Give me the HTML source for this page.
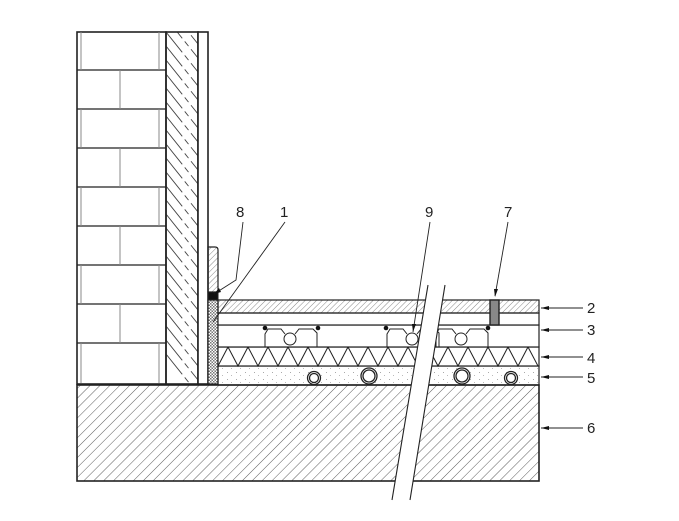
<!DOCTYPE html>
<html><head><meta charset="utf-8"><style>
html,body{margin:0;padding:0;background:#fff;width:679px;height:521px;overflow:hidden}
text{font-family:"Liberation Sans",sans-serif;font-size:15px;fill:#222}
</style></head><body>
<svg width="679" height="521" viewBox="0 0 679 521" xmlns="http://www.w3.org/2000/svg">
<defs>
<pattern id="h" patternUnits="userSpaceOnUse" width="7" height="7" patternTransform="rotate(45)">
<line x1="0" y1="0" x2="0" y2="7" stroke="#333" stroke-width="0.8"/></pattern>
<pattern id="hs" patternUnits="userSpaceOnUse" width="4" height="4" patternTransform="rotate(45)">
<line x1="0" y1="0" x2="0" y2="4" stroke="#555" stroke-width="0.7"/></pattern>
<pattern id="cx" patternUnits="userSpaceOnUse" width="3" height="3">
<rect width="3" height="3" fill="#fff"/><rect width="1.5" height="1.5" fill="#777"/><rect x="1.5" y="1.5" width="1.5" height="1.5" fill="#777"/></pattern>
<pattern id="dots" patternUnits="userSpaceOnUse" width="9" height="7">
<rect width="1" height="1" x="2" y="1" fill="#aaa"/><rect width="1" height="1" x="6" y="4" fill="#bbb"/></pattern>
<clipPath id="pc"><rect x="166" y="32" width="32" height="352"/></clipPath>
</defs>
<g stroke="#222" fill="none">
<rect x="77" y="385" width="462" height="96" fill="url(#h)" stroke-width="1.6"/>
<rect x="77" y="32" width="89" height="352" fill="#fff" stroke-width="1.6"/>
<g stroke-width="1.2">
<line x1="77" y1="70" x2="166" y2="70"/><line x1="77" y1="109" x2="166" y2="109"/>
<line x1="77" y1="148" x2="166" y2="148"/><line x1="77" y1="187" x2="166" y2="187"/>
<line x1="77" y1="226" x2="166" y2="226"/><line x1="77" y1="265" x2="166" y2="265"/>
<line x1="77" y1="304" x2="166" y2="304"/><line x1="77" y1="343" x2="166" y2="343"/>
</g>
<g stroke="#888" stroke-width="1">
<line x1="120" y1="70" x2="120" y2="109"/><line x1="120" y1="148" x2="120" y2="187"/>
<line x1="120" y1="226" x2="120" y2="265"/><line x1="120" y1="304" x2="120" y2="343"/>
<line x1="81" y1="32" x2="81" y2="70"/><line x1="159" y1="32" x2="159" y2="70"/>
<line x1="81" y1="109" x2="81" y2="148"/><line x1="159" y1="109" x2="159" y2="148"/>
<line x1="81" y1="187" x2="81" y2="226"/><line x1="159" y1="187" x2="159" y2="226"/>
<line x1="81" y1="265" x2="81" y2="304"/><line x1="159" y1="265" x2="159" y2="304"/>
<line x1="81" y1="343" x2="81" y2="383"/><line x1="159" y1="343" x2="159" y2="383"/>
</g>
<g clip-path="url(#pc)" stroke="#444" stroke-width="0.9">
<path id="pp" stroke-dasharray="26 4 6 4" d="M166 -10 l32 40 M166 4 l32 40 M166 18 l32 40 M166 32 l32 40 M166 46 l32 40 M166 60 l32 40 M166 74 l32 40 M166 88 l32 40 M166 102 l32 40 M166 116 l32 40 M166 130 l32 40 M166 144 l32 40 M166 158 l32 40 M166 172 l32 40 M166 186 l32 40 M166 200 l32 40 M166 214 l32 40 M166 228 l32 40 M166 242 l32 40 M166 256 l32 40 M166 270 l32 40 M166 284 l32 40 M166 298 l32 40 M166 312 l32 40 M166 326 l32 40 M166 340 l32 40 M166 354 l32 40"/>
</g>
<rect x="166" y="32" width="32" height="352" stroke-width="1.6"/>
<rect x="198" y="32" width="10" height="352" fill="#fff" stroke-width="1.6"/>
<path d="M208 247 H215 Q218 247 218 250 V292 H208 Z" fill="url(#hs)" stroke-width="1.2"/>
<rect x="208" y="292" width="10" height="8" fill="#111" stroke-width="1"/>
<rect x="208" y="300" width="10" height="84" fill="url(#cx)" stroke-width="1.2"/>
<rect x="218" y="366" width="321" height="19" fill="url(#dots)" stroke-width="1.2"/>
<rect x="218" y="347" width="321" height="19" fill="#fff" stroke-width="1.2"/>
<polyline stroke-width="1" points="218,366 228,347 238,366 248,347 258,366 268,347 278,366 288,347 298,366 308,347 318,366 328,347 338,366 348,347 358,366 368,347 378,366 388,347 398,366 408,347 418,366 428,347 438,366 448,347 458,366 468,347 478,366 488,347 498,366 508,347 518,366 528,347 538,366"/>
<rect x="218" y="325" width="321" height="22" fill="#fff" stroke-width="1.2"/>
<rect x="218" y="313" width="321" height="12" fill="#fff" stroke-width="1.2"/>
<rect x="218" y="300" width="321" height="13" fill="url(#hs)" stroke-width="1.2"/>
<g stroke-width="1">
<path d="M265 347 V334 L268 329 H281 L285 334 M295 334 L299 329 H313 L317 333 V347"/>
<path d="M387 347 V334 L390 329 H403 L407 334 M417 334 L421 329 H435 L439 333 V347"/>
<path d="M436 347 V334 L439 329 H452 L456 334 M466 334 L470 329 H484 L488 333 V347"/>
<circle cx="290" cy="339" r="6" fill="#fff"/><circle cx="412" cy="339" r="6" fill="#fff"/><circle cx="461" cy="339" r="6" fill="#fff"/>
</g>
<g fill="#111" stroke="none">
<circle cx="265" cy="328" r="2.3"/><circle cx="318" cy="328" r="2.3"/><circle cx="386" cy="328" r="2.3"/><circle cx="488" cy="328" r="2.3"/>
</g>
<g stroke-width="1.3" fill="#fff">
<circle cx="314" cy="378" r="6.5"/><circle cx="314" cy="378" r="4.5"/>
<circle cx="369" cy="376" r="8"/><circle cx="369" cy="376" r="6"/>
<circle cx="462" cy="376" r="8"/><circle cx="462" cy="376" r="6"/>
<circle cx="511" cy="378" r="6.5"/><circle cx="511" cy="378" r="4.5"/>
</g>
<rect x="490" y="300" width="9" height="25" fill="#888" stroke-width="1.4"/>
<polygon points="428,285 445,285 410,500 392,500" fill="#fff" stroke="none"/>
<line x1="428" y1="285" x2="392" y2="500" stroke-width="1.1"/>
<line x1="445" y1="285" x2="410" y2="500" stroke-width="1.1"/>
<g stroke-width="0.9">
<polyline points="243,222 236,280 214,294"/>
<line x1="285" y1="222" x2="213" y2="322"/>
<line x1="430" y1="222" x2="413" y2="332"/>
<line x1="508" y1="222" x2="495" y2="296"/>
<line x1="541" y1="308" x2="583" y2="308"/>
<line x1="541" y1="330" x2="583" y2="330"/>
<line x1="541" y1="357" x2="583" y2="357"/>
<line x1="541" y1="377" x2="583" y2="377"/>
<line x1="541" y1="428" x2="583" y2="428"/>
</g>
<g fill="#111" stroke="none">
<polygon points="541,308 549,306 549,310"/><polygon points="541,330 549,328 549,332"/>
<polygon points="541,357 549,355 549,359"/><polygon points="541,377 549,375 549,379"/>
<polygon points="541,428 549,426 549,430"/>
<polygon points="214,294 219,288 221,292"/>
<polygon points="413,332 412,324 416,324"/>
<polygon points="495,297 494,289 498,289"/>
</g>
</g>
<text x="236" y="217">8</text><text x="280" y="217">1</text><text x="425" y="217">9</text><text x="504" y="217">7</text>
<text x="587" y="313">2</text><text x="587" y="335">3</text><text x="587" y="363">4</text><text x="587" y="383">5</text><text x="587" y="433">6</text>
</svg>
</body></html>
